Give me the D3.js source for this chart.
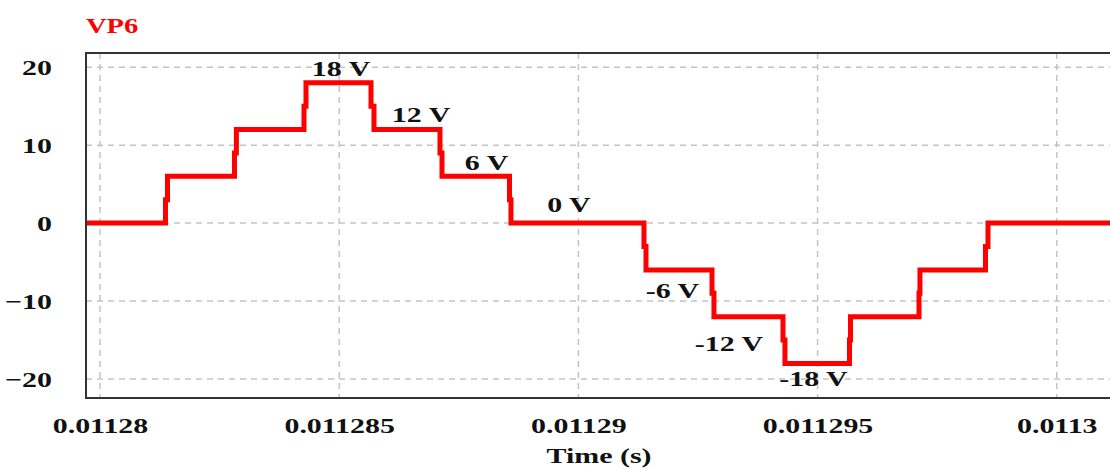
<!DOCTYPE html>
<html>
<head>
<meta charset="utf-8">
<script src="https://cdn.jsdelivr.net/npm/d3@7"></script>
<style>
  html, body { margin: 0; padding: 0; background: #fff; }
  svg { display: block; }
</style>
</head>
<body>
<svg id="chart"></svg>
<script>
// Waveform samples (time in s, voltage in V)
const waveTime = [
  0.0112797,
  0.011281369, 0.011281369, 0.011281411, 0.011281411,
  0.011282811, 0.011282811, 0.011282851, 0.011282851,
  0.011284264, 0.011284264, 0.011284306, 0.011284306,
  0.011285665, 0.011285665, 0.011285727, 0.011285727,
  0.011287107, 0.011287107, 0.011287149, 0.011287149,
  0.011288560, 0.011288560, 0.011288591, 0.011288591,
  0.011291371, 0.011291371, 0.011291413, 0.011291413,
  0.011292793, 0.011292793, 0.011292834, 0.011292834,
  0.011294277, 0.011294277, 0.011294318, 0.011294318,
  0.011295667, 0.011295667, 0.011295688, 0.011295688,
  0.011297120, 0.011297120, 0.011297140, 0.011297140,
  0.011298510, 0.011298510, 0.011298562, 0.011298562,
  0.0113012
];
const waveVolts = [
  0,
  0, 3, 3, 6,
  6, 9, 9, 12,
  12, 15, 15, 18,
  18, 15, 15, 12,
  12, 9, 9, 6,
  6, 3, 3, 0,
  0, -3, -3, -6,
  -6, -9, -9, -12,
  -12, -15, -15, -18,
  -18, -15, -15, -12,
  -12, -9, -9, -6,
  -6, -3, -3, 0,
  0
];

// Step annotations (anchor time, anchor voltage)
const labelText = ["18 V", "12 V", "6 V", "0 V", "-6 V", "-12 V", "-18 V"];
const labelTime = [0.011285038, 0.011286710, 0.011288079, 0.011289803, 0.011291967, 0.011293148, 0.011294914];
const labelVolts = [18.9, 13.0, 6.8, 1.45, -9.6, -16.4, -20.85];

const xTicks = [0.01128, 0.011285, 0.01129, 0.011295, 0.0113];
const xTickLabels = ["0.01128", "0.011285", "0.01129", "0.011295", "0.0113"];
const yTicks = [20, 10, 0, -10, -20];

const width = 1110;
const height = 469;
const margin = { top: 53, right: -2, bottom: 71, left: 86 };
const FONT = "'Liberation Serif', 'Times New Roman', serif";
const STRETCH = 1.36; // reference text is horizontally stretched

const svg = d3.select("#chart")
  .attr("width", width)
  .attr("height", height);

const x = d3.scaleLinear()
  .domain([0.0112797074, 0.0113011544])
  .range([margin.left, width - margin.right]);

const y = d3.scaleLinear()
  .domain([-22.44, 21.83])
  .range([height - margin.bottom, margin.top]);

// Stretched bold text helper
function label(g, txt, px, py, anchor, color, size) {
  return g.append("text")
    .attr("transform", `translate(${px},${py}) scale(${STRETCH},1)`)
    .attr("text-anchor", anchor)
    .style("font-family", FONT)
    .style("font-weight", "bold")
    .style("font-size", size + "px")
    .style("fill", color)
    .text(txt);
}

// Grid
const grid = svg.append("g").attr("class", "grid");
grid.selectAll("line.vgrid")
  .data(xTicks)
  .join("line")
  .attr("class", "vgrid")
  .attr("x1", d => x(d)).attr("x2", d => x(d))
  .attr("y1", margin.top).attr("y2", height - margin.bottom)
  .attr("stroke", "#c4c4c4")
  .attr("stroke-width", 1.5)
  .attr("stroke-dasharray", "6,5");

grid.selectAll("line.hgrid")
  .data(yTicks)
  .join("line")
  .attr("class", "hgrid")
  .attr("x1", margin.left).attr("x2", width)
  .attr("y1", d => y(d)).attr("y2", d => y(d))
  .attr("stroke", "#c4c4c4")
  .attr("stroke-width", 1.5)
  .attr("stroke-dasharray", "6,5");

// Waveform
svg.append("clipPath")
  .attr("id", "plot-clip")
  .append("rect")
  .attr("x", margin.left)
  .attr("y", margin.top)
  .attr("width", width - margin.left - margin.right)
  .attr("height", height - margin.top - margin.bottom);

const points = waveTime.map((t, i) => [t, waveVolts[i]]);
const line = d3.line()
  .x(d => x(d[0]))
  .y(d => y(d[1]));

svg.append("path")
  .datum(points)
  .attr("clip-path", "url(#plot-clip)")
  .attr("d", line)
  .attr("fill", "none")
  .attr("stroke", "#ff0000")
  .attr("stroke-width", 5)
  .attr("stroke-linejoin", "miter");

// Frame
svg.append("rect")
  .attr("x", margin.left)
  .attr("y", margin.top)
  .attr("width", width - margin.left - margin.right)
  .attr("height", height - margin.top - margin.bottom)
  .attr("fill", "none")
  .attr("stroke", "#333")
  .attr("stroke-width", 2);

// Axes (labels only, the frame draws the domain)
const xAxis = d3.axisBottom(x)
  .tickValues(xTicks)
  .tickSize(0)
  .tickPadding(0)
  .tickFormat((d, i) => xTickLabels[i]);

const xg = svg.append("g")
  .attr("transform", `translate(0,${height - margin.bottom})`)
  .call(xAxis);
xg.select(".domain").remove();
xg.selectAll(".tick text")
  .attr("y", 35)
  .attr("dy", null)
  .attr("transform", `scale(${STRETCH},1)`)
  .attr("x", 0)
  .style("font-family", FONT)
  .style("font-weight", "bold")
  .style("font-size", "22px")
  .style("fill", "#111");

const yAxis = d3.axisLeft(y)
  .tickValues(yTicks)
  .tickSize(0)
  .tickPadding(0)
  .tickFormat(d3.format("d"));

const yg = svg.append("g")
  .attr("transform", `translate(52,0)`)
  .call(yAxis);
yg.select(".domain").remove();
yg.selectAll(".tick text")
  .attr("x", 0)
  .attr("dy", "0.34em")
  .attr("transform", `scale(${STRETCH},1)`)
  .style("font-family", FONT)
  .style("font-weight", "bold")
  .style("font-size", "22px")
  .style("fill", "#111");

// Title and axis title
label(svg, "VP6", margin.left, 33, "start", "#ff0000", 21);
label(svg, "Time (s)", (margin.left + width - margin.right) / 2, 463, "middle", "#111", 22);

// Step annotations
const notes = svg.append("g").attr("class", "notes");
labelText.forEach((t, i) => {
  label(notes, t, x(labelTime[i]), y(labelVolts[i]), "middle", "#111", 22);
});
</script>
</body>
</html>
